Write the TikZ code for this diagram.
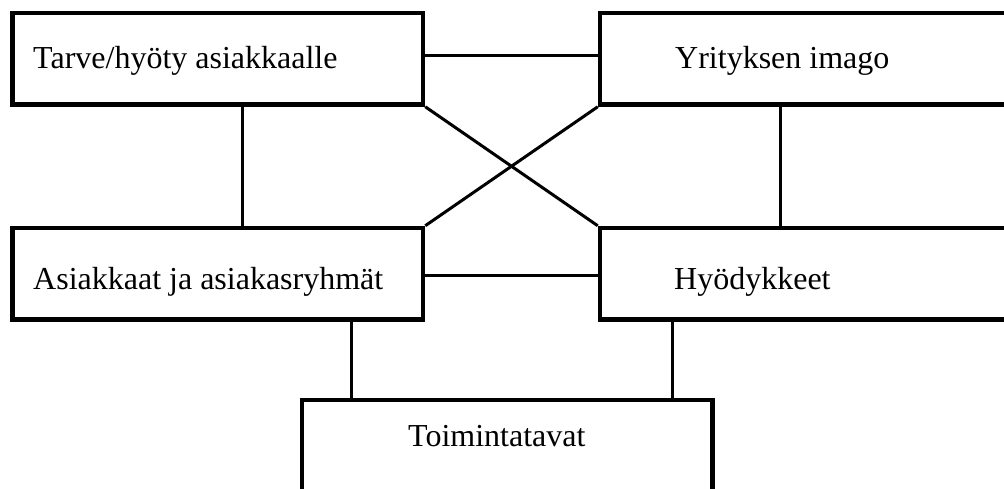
\documentclass[tikz,border=0pt]{standalone}
\usepackage{fontspec}
\setmainfont{Liberation Serif}
\begin{document}
\begin{tikzpicture}[x=1pt,y=-1pt,
  box/.style={draw=black, line width=4.5pt, rectangle, inner sep=0pt, minimum width=410.5pt, minimum height=91.5pt},
  lbl/.style={anchor=base west, inner sep=0pt, font=\fontsize{32}{38}\selectfont},
  conn/.style={draw=black, line width=3pt}]
\useasboundingbox (0,0) rectangle (1004,488);
\clip (0,0) rectangle (1004,488);
% boxes
\node[box] (b1) at (217.75,58.75) {};
\node[box] (b2) at (805.25,58.75) {};
\node[box] (b3) at (217.75,273.75) {};
\node[box] (b4) at (805.25,273.75) {};
\node[box] (b5) at (507.25,445.75) {};
% labels
\node[lbl] (t1) at (33,68) {Tarve/hyöty asiakkaalle};
\node[lbl] (t2) at (675,68) {Yrityksen imago};
\node[lbl] (t3) at (33,289) {Asiakkaat ja asiakasryhmät};
\node[lbl] (t4) at (674,289) {Hyödykkeet};
\node[lbl] (t5) at (408,446) {Toimintatavat};
% connector columns
\coordinate (v1) at (242,0);
\coordinate (v2) at (780,0);
\coordinate (v3) at (351,0);
\coordinate (v4) at (672,0);
% connectors
\draw[conn] ([yshift=3.75pt]b1.east) -- ([yshift=3.75pt]b2.west);
\draw[conn] ([yshift=-1.25pt]b3.east) -- ([yshift=-1.25pt]b4.west);
\draw[conn] (b1.south -| v1) -- (b3.north -| v1);
\draw[conn] (b2.south -| v2) -- (b4.north -| v2);
\draw[conn] (b3.south -| v3) -- (b5.north -| v3);
\draw[conn] (b4.south -| v4) -- (b5.north -| v4);
\draw[conn] (b1.south east) -- (b4.north west);
\draw[conn] (b2.south west) -- (b3.north east);
\end{tikzpicture}
\end{document}
